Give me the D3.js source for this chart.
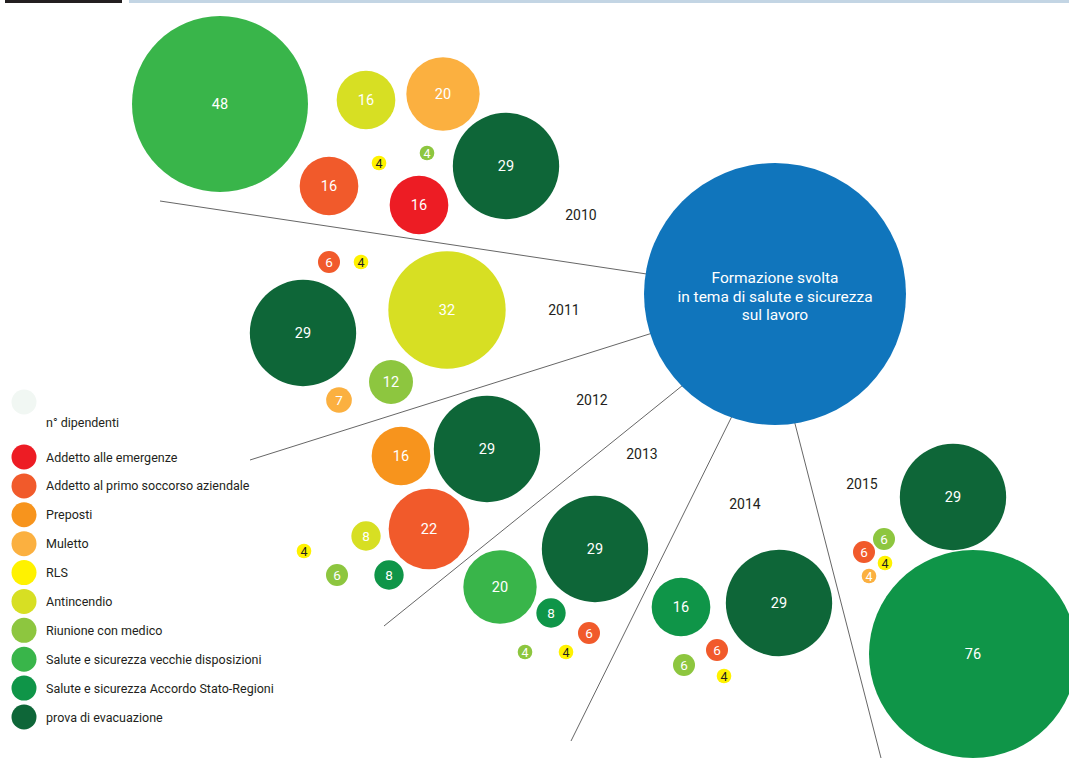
<!DOCTYPE html>
<html><head><meta charset="utf-8">
<script src="https://cdn.jsdelivr.net/npm/d3@7"></script>
<style>
html,body{margin:0;padding:0;background:#fff;}
svg{display:block;font-family:Roboto,"DejaVu Sans",sans-serif;}
</style></head>
<body><svg id="c" width="1069" height="759"></svg>
<script>
// ---------- DATA ----------
const categories = [
  "Addetto alle emergenze",
  "Addetto al primo soccorso aziendale",
  "Preposti",
  "Muletto",
  "RLS",
  "Antincendio",
  "Riunione con medico",
  "Salute e sicurezza vecchie disposizioni",
  "Salute e sicurezza Accordo Stato-Regioni",
  "prova di evacuazione"
];
const years = ["2010", "2011", "2012", "2013", "2014", "2015"];
// number of employees trained, per year: [category, value]
const data2010 = [["Salute e sicurezza vecchie disposizioni",48],["Antincendio",16],["Muletto",20],["RLS",4],["Riunione con medico",4],["Addetto al primo soccorso aziendale",16],["Addetto alle emergenze",16],["prova di evacuazione",29]];
const data2011 = [["Addetto al primo soccorso aziendale",6],["RLS",4],["Antincendio",32],["prova di evacuazione",29],["Riunione con medico",12],["Muletto",7]];
const data2012 = [["Preposti",16],["prova di evacuazione",29],["Addetto al primo soccorso aziendale",22],["Antincendio",8],["RLS",4],["Riunione con medico",6],["Salute e sicurezza Accordo Stato-Regioni",8]];
const data2013 = [["prova di evacuazione",29],["Salute e sicurezza vecchie disposizioni",20],["Salute e sicurezza Accordo Stato-Regioni",8],["Addetto al primo soccorso aziendale",6],["Riunione con medico",4],["RLS",4]];
const data2014 = [["Salute e sicurezza Accordo Stato-Regioni",16],["prova di evacuazione",29],["Addetto al primo soccorso aziendale",6],["Riunione con medico",6],["RLS",4]];
const data2015 = [["prova di evacuazione",29],["Riunione con medico",6],["Addetto al primo soccorso aziendale",6],["RLS",4],["Muletto",4],["Salute e sicurezza Accordo Stato-Regioni",76]];
const yearData = [data2010, data2011, data2012, data2013, data2014, data2015];
const centerTitle = ["Formazione svolta", "in tema di salute e sicurezza", "sul lavoro"];
const legendTitle = "n° dipendenti";

// ---------- LAYOUT (positions only) ----------
const layout = [
  [[220,104],[366,100],[443,94],[379,163],[427,153],[329,186],[419,205],[506,166]],
  [[329,262],[361,262],[447,310],[303,333],[391,382],[339,400]],
  [[401,456],[487,449],[429,529],[366,536],[304,551],[337,575],[389,575]],
  [[595,549],[500,587],[551,613],[589,633],[525,652],[566,652]],
  [[681,607],[779,603],[717,650],[684,665],[724,676]],
  [[953,497],[884,539],[864,552],[885,563],[869,576],[973,654]]
];
const yearLabelPos = [[581,215],[564,310],[592,400],[642,454],[745,504],[862,484]];
const spokes = [[[160,201],[660,276]],[[250,460],[662,330]],[[384,626],[693,377]],[[571,741],[737,406]],[[881,758],[792,412]]];
const hub = {x:775, y:294, r:131};

// ---------- STYLES ----------
const colors = ["#ed1c24","#f15a2b","#f7941d","#fbb040","#fff200","#d7df23","#8dc63f","#39b54a","#0f9548","#0e6638"];
const color = d3.scaleOrdinal().domain(categories).range(colors);
const rScale = d3.scaleLinear().domain([0,48,76]).range([0,88,104]);

const svg = d3.select("#c");

// header bars
svg.append("rect").attr("x",5).attr("y",0).attr("width",117).attr("height",3).attr("fill","#231f20");
svg.append("rect").attr("x",129).attr("y",0).attr("width",940).attr("height",3).attr("fill","#c3d5e4");

// spokes
svg.selectAll("line.spoke").data(spokes).enter().append("line")
  .attr("x1",d=>d[1][0]).attr("y1",d=>d[1][1]).attr("x2",d=>d[0][0]).attr("y2",d=>d[0][1])
  .attr("stroke","#555").attr("stroke-width",0.9);

// hub
svg.append("circle").attr("cx",hub.x).attr("cy",hub.y).attr("r",hub.r).attr("fill","#1075bc");
svg.append("text").attr("x",hub.x).attr("y",283).attr("text-anchor","middle")
  .attr("fill","#fff").attr("font-size",15.5)
  .selectAll("tspan").data(centerTitle).enter().append("tspan")
  .attr("x",hub.x).attr("dy",(d,i)=>i?18.5:0).text(d=>d);

// bubbles
const bubbles = [];
yearData.forEach((arr,yi)=>arr.forEach((d,i)=>bubbles.push({year:years[yi],cat:d[0],value:d[1],x:layout[yi][i][0],y:layout[yi][i][1]})));
const g = svg.selectAll("g.b").data(bubbles).enter().append("g").attr("transform",d=>`translate(${d.x},${d.y})`);
g.append("circle").attr("r",d=>rScale(d.value)).attr("fill",d=>color(d.cat));
g.append("text").attr("text-anchor","middle").attr("dy","0.36em")
  .attr("font-size",d=>d.value<=4?12.5:(d.value<=8?13.5:14.5))
  .attr("fill",d=>d.cat==="RLS"?"#231f20":"#fff")
  .text(d=>d.value);

// year labels
svg.selectAll("text.yr").data(years).enter().append("text")
  .attr("x",(d,i)=>yearLabelPos[i][0]).attr("y",(d,i)=>yearLabelPos[i][1]).attr("dy","0.36em")
  .attr("text-anchor","middle").attr("font-size",14).attr("fill","#231f20").text(d=>d);

// legend
svg.append("circle").attr("cx",24).attr("cy",402).attr("r",12.5).attr("fill","#f1f7f3");
svg.append("text").attr("x",46).attr("y",422).attr("dy","0.36em").attr("font-size",12.5).attr("fill","#231f20").text(legendTitle);
const legY = d3.scalePoint().domain(categories).range([457,717]);
const lg = svg.selectAll("g.lg").data(categories).enter().append("g").attr("transform",d=>`translate(0,${legY(d)})`);
lg.append("circle").attr("cx",24).attr("r",12.5).attr("fill",d=>color(d));
lg.append("text").attr("x",46).attr("dy","0.36em").attr("font-size",12.5).attr("fill","#231f20").text(d=>d);
</script></body></html>
